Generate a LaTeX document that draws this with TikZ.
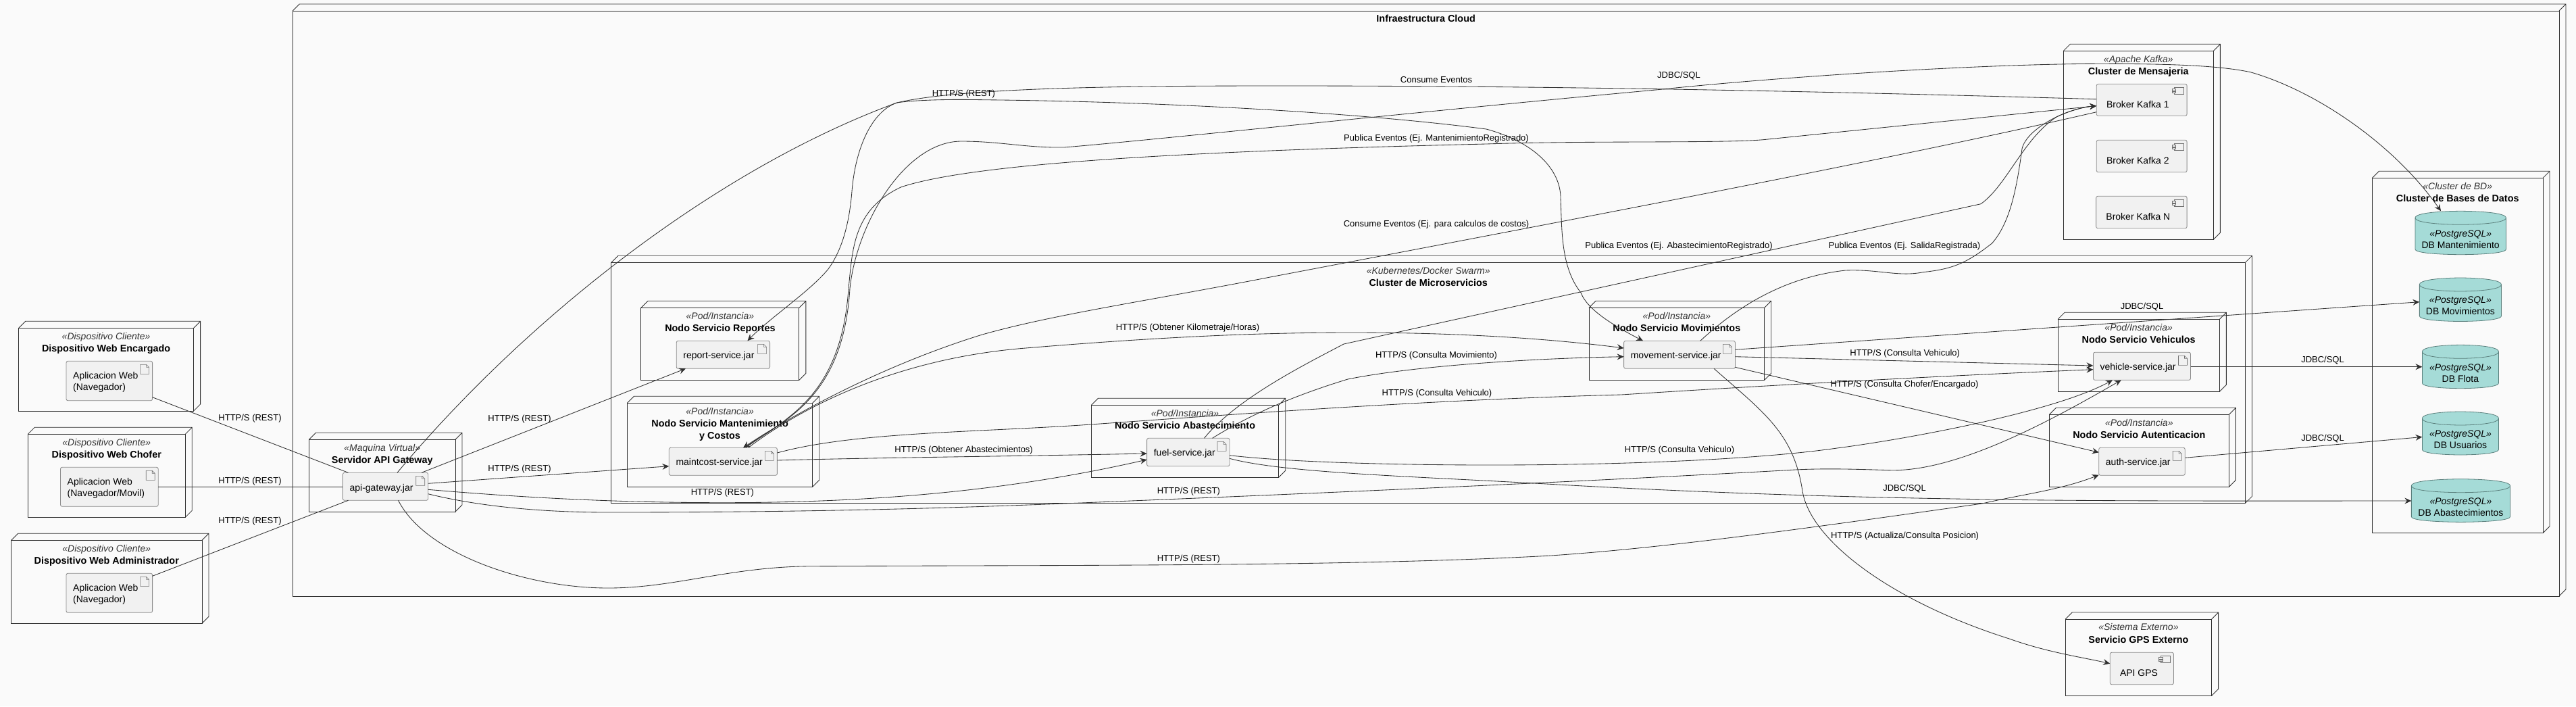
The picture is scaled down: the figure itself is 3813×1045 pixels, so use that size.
\documentclass[tikz,border=0pt]{standalone}
\usepackage{fontspec}
\setmainfont{Liberation Sans}
\usetikzlibrary{arrows.meta}
\definecolor{bgc}{HTML}{FAFAFA}
\definecolor{ln}{HTML}{303030}
\definecolor{artf}{HTML}{F1F1F1}
\definecolor{artl}{HTML}{8C8C8C}
\definecolor{iconl}{HTML}{707070}
\definecolor{dbf}{HTML}{A5DBD7}
\definecolor{dbl}{HTML}{5A7F7C}
\definecolor{ster}{HTML}{333333}
\tikzset{
  frontbox/.style={draw=ln,line width=.85pt,anchor=north west,inner sep=0pt,outer sep=0pt},
  artbox/.style={draw=artl,fill=artf,line width=.85pt,rounded corners=2.5pt,anchor=north west,inner sep=0pt,outer sep=0pt},
  dbbox/.style={anchor=north west,inner sep=0pt,outer sep=0pt},
  icon/.style={draw=iconl,line width=.6pt},
  stereo/.style={font=\fontsize{14}{17}\selectfont\itshape,text=ster,inner sep=0pt,text height=10.5pt,text depth=3pt},
  ttl/.style={font=\fontsize{14.4}{18}\selectfont\bfseries,inner sep=0pt,align=center,anchor=north},
  nodetxt/.style={font=\fontsize{14}{17}\selectfont,inner sep=0pt,align=left,anchor=west},
  dbtxt/.style={font=\fontsize{14}{17}\selectfont,inner sep=0pt,text height=10.5pt,text depth=3pt},
  lab/.style={font=\fontsize{13}{16}\selectfont,inner sep=0pt,text height=10pt,text depth=3pt},
  link/.style={draw=ln,line width=.85pt},
  arrowlink/.style={link,-{Stealth[length=10pt,width=9pt,inset=3.5pt]}},
}
% 3D node frame
\newcommand{\podframe}[5]{%
  \node[frontbox,minimum width=#4pt,minimum height=#5pt] (#1) at (#2,#3) {};
  \draw[ln,line width=.85pt] (#1.north west) -- ([shift={(10,-10)}]#1.north west) -- ([shift={(10,-10)}]#1.north east)
     -- ([shift={(10,-10)}]#1.south east) -- (#1.south east)
     (#1.north east) -- ([shift={(10,-10)}]#1.north east);
}
\newcommand{\pod}[7]{%
  \podframe{#1}{#2}{#3}{#4}{#5}
  \node[stereo] (#1-s) at ([shift={(0,13)}]#1.north) {«#6»};
  \node[ttl] (#1-t) at ([shift={(0,24.5)}]#1.north) {#7};
}
% artifact with document icon: name,x,y,w,h,text,vertical offset of text
\newcommand{\artifact}[7]{%
  \node[artbox,minimum width=#4pt,minimum height=#5pt] (#1) at (#2,#3) {};
  \draw[icon] ([shift={(-18,5)}]#1.north east) -- ([shift={(-9,5)}]#1.north east) -- ([shift={(-5,9)}]#1.north east)
     -- ([shift={(-5,19)}]#1.north east) -- ([shift={(-18,19)}]#1.north east) -- cycle
     ([shift={(-9,5)}]#1.north east) -- ([shift={(-9,9)}]#1.north east) -- ([shift={(-5,9)}]#1.north east);
  \node[nodetxt] (#1-l) at ([shift={(10,#7)}]#1.north west) {#6};
}
% component with plug icon
\newcommand{\component}[6]{%
  \node[artbox,minimum width=#4pt,minimum height=#5pt] (#1) at (#2,#3) {};
  \draw[icon] ([shift={(-19,5)}]#1.north east) rectangle ([shift={(-5,15)}]#1.north east);
  \draw[icon,fill=artf] ([shift={(-22,7)}]#1.north east) rectangle ([shift={(-16.5,9.5)}]#1.north east);
  \draw[icon,fill=artf] ([shift={(-22,10.5)}]#1.north east) rectangle ([shift={(-16.5,13)}]#1.north east);
  \node[nodetxt] (#1-l) at ([shift={(14.6,30)}]#1.north west) {#6};
}
% database cylinder
\newcommand{\database}[6]{%
  \node[dbbox,minimum width=#4pt,minimum height=#5pt] (#1) at (#2,#3) {};
  \draw[draw=dbl,fill=dbf,line width=.8pt] ([shift={(0,10)}]#1.north west) .. controls (#1.north west) and (#1.north) .. (#1.north)
     .. controls (#1.north) and (#1.north east) .. ([shift={(0,10)}]#1.north east)
     -- ([shift={(0,-8)}]#1.south east) .. controls (#1.south east) and (#1.south) .. (#1.south)
     .. controls (#1.south) and (#1.south west) .. ([shift={(0,-8)}]#1.south west) -- cycle;
  \draw[draw=dbl,line width=.8pt] ([shift={(0,10)}]#1.north west) .. controls ([shift={(0,20)}]#1.north west) and ([shift={(0,20)}]#1.north) .. ([shift={(0,20)}]#1.north)
     .. controls ([shift={(0,20)}]#1.north) and ([shift={(0,20)}]#1.north east) .. ([shift={(0,10)}]#1.north east);
  \node[stereo,text=black] (#1-s) at ([shift={(0,34.2)}]#1.north) {«#6»};
}
\newcommand{\dbname}[2]{\node[dbtxt] (#1-n) at ([shift={(0,51)}]#1.north) {#2};}
\begin{document}
\begin{tikzpicture}[x=1pt,y=-1pt]
\useasboundingbox (0,0) rectangle (3813,1045);
\fill[bgc] (0,0) rectangle (3813,1045);

% frames
\podframe{infra}{433.3}{16}{3354.7}{866}
\node[ttl] (infra-t) at ([shift={(0,5.5)}]infra.north) {Infraestructura Cloud};
\pod{kafka}{3054.3}{75.3}{222}{279}{Apache Kafka}{Cluster de Mensajeria}
\pod{dbc}{3511.4}{263.3}{252.6}{525.3}{Cluster de BD}{Cluster de Bases de Datos}
\pod{micro}{904.9}{388.3}{2418.6}{356}{Kubernetes/Docker Swarm}{Cluster de Microservicios}
\pod{enc}{27.6}{485.3}{259}{122.7}{Dispositivo Cliente}{Dispositivo Web Encargado}
\pod{cho}{41.3}{642.3}{233}{123}{Dispositivo Cliente}{Dispositivo Web Chofer}
\pod{adm}{16.6}{799.3}{282.4}{123}{Dispositivo Cliente}{Dispositivo Web Administrador}
\pod{gwn}{457.5}{650.3}{216.5}{106.7}{Maquina Virtual}{Servidor API Gateway}
\pod{rep}{948.9}{455.3}{234}{107}{Pod/Instancia}{Nodo Servicio Reportes}
\pod{mant}{928.5}{596.3}{274.2}{124}{Pod/Instancia}{Nodo Servicio Mantenimiento\\y Costos}
\pod{abast}{1615.4}{599.3}{277.3}{107}{Pod/Instancia}{Nodo Servicio Abastecimiento}
\pod{mov}{2352}{455.3}{259.7}{107}{Pod/Instancia}{Nodo Servicio Movimientos}
\pod{veh}{3046}{472.3}{239.3}{107}{Pod/Instancia}{Nodo Servicio Vehiculos}
\pod{aut}{3033.3}{613.3}{266}{107}{Pod/Instancia}{Nodo Servicio Autenticacion}
\pod{gps}{3057.2}{916}{216.4}{113.3}{Sistema Externo}{Servicio GPS Externo}

% artifacts
\artifact{aenc}{98}{534.3}{127.6}{58.4}{Aplicacion Web\\(Navegador)}{31.2}
\artifact{acho}{89.5}{691.3}{144.7}{58}{Aplicacion Web\\(Navegador/Movil)}{31.2}
\artifact{aadm}{98}{848.3}{127.6}{58}{Aplicacion Web\\(Navegador)}{31.2}
\artifact{gw}{507.4}{699.3}{126.3}{41}{api-gateway.jar}{23.4}
\artifact{arep}{1001.2}{504.3}{138.4}{41}{report-service.jar}{23}
\artifact{amant}{990.3}{662.3}{160.1}{41}{maintcost-service.jar}{23}
\artifact{afuel}{1697.6}{648.3}{122.4}{41.4}{fuel-service.jar}{23}
\artifact{amov}{2403.6}{504.3}{164.8}{41}{movement-service.jar}{23}
\artifact{aveh}{3098.4}{521.3}{144.1}{41}{vehicle-service.jar}{23}
\artifact{aaut}{3106.7}{662.3}{127.5}{41}{auth-service.jar}{23}

% components
\component{b1}{3103.2}{124.3}{133.9}{47}{Broker Kafka 1}
\component{b2}{3103.2}{207.3}{133.9}{47.4}{Broker Kafka 2}
\component{bn}{3102.6}{290.3}{134.5}{47.4}{Broker Kafka N}
\component{api}{3123.2}{965.3}{94.2}{47.4}{API GPS}

% databases
\database{dman}{3574.9}{312.3}{134.5}{64.4}{PostgreSQL}\dbname{dman}{DB Mantenimiento}
\database{dmov}{3581.3}{411}{121.1}{64.5}{PostgreSQL}\dbname{dmov}{DB Movimientos}
\database{dflo}{3585.4}{510.3}{113}{64.4}{PostgreSQL}\dbname{dflo}{DB Flota}
\database{dusr}{3585.4}{609}{113}{64}{PostgreSQL}\dbname{dusr}{DB Usuarios}
\database{dabs}{3569.3}{708.7}{146.2}{63.7}{PostgreSQL}\dbname{dabs}{DB Abastecimientos}

% clients to gateway
\draw[link] ([shift={(127.6,53.4)}]aenc.north west) -- ([shift={(8.1,0)}]gw.north west);
\draw[link] ([shift={(144.7,29)}]acho.north west) -- ([shift={(0,21)}]gw.north west);
\draw[link] ([shift={(127.6,4)}]aadm.north west) -- ([shift={(8.1,41)}]gw.north west);

% gateway to services
\draw[arrowlink] ([shift={(116.6,0)}]gw.north west) -- ([shift={(13.8,41)}]arep.north west);
\draw[arrowlink] ([shift={(126.3,16)}]gw.north west) -- ([shift={(0,27.4)}]amant.north west);
\draw[arrowlink] ([shift={(126.3,25)}]gw.north west) .. controls (760,735) and (900,743.7) .. (1070,743.7)
   .. controls (1300,743.7) and (1500,725) .. ([shift={(0,31.7)}]afuel.north west);
\draw[arrowlink] ([shift={(126.3,31.4)}]gw.north west) .. controls (720,752) and (820,758) .. (900,758)
   .. controls (1200,758) and (1400,752) .. (1600,744)
   .. controls (1950,730) and (2350,712) .. (2640,696)
   .. controls (2700,692) and (2750,694.5) .. (2800,695.7)
   .. controls (2900,697) and (3040,620) .. ([shift={(41.4,41)}]aveh.north west);
\draw[arrowlink] ([shift={(82.1,41)}]gw.north west) .. controls (630,820) and (780,870) .. (900,870)
   .. controls (1000,870) and (1080,838) .. (1204,837.7)
   .. controls (1600,836) and (2000,838) .. (2291,822.3)
   .. controls (2480,810) and (2720,775) .. (2934,745)
   .. controls (2990,732) and (3050,725) .. ([shift={(0,40.4)}]aaut.north west);
\draw[arrowlink] ([shift={(80.6,0)}]gw.north west) .. controls (780,470) and (1060,250) .. (1327.5,152)
   .. controls (1360,147) and (1420,147) .. (1455,147.7)
   .. controls (1700,150) and (2000,165) .. (2200,191)
   .. controls (2270,210) and (2310,250) .. (2310,293)
   .. controls (2312,340) and (2310,395) .. (2340,433)
   .. controls (2350,460) and (2395,485) .. ([shift={(28.4,0)}]amov.north west);

% kafka to services
\draw[arrowlink] ([shift={(0,22.4)}]b1.north west) .. controls (2700,135) and (2300,127) .. (1900,127)
   .. controls (1700,127) and (1430,128) .. (1327.5,152)
   .. controls (1290,165) and (1266,220) .. (1261,283)
   .. controls (1258,320) and (1250,365) .. (1226,398)
   .. controls (1200,430) and (1140,470) .. ([shift={(105.2,0)}]arep.north west);
\draw[arrowlink] ([shift={(0,41.4)}]b1.north west) .. controls (2800,236) and (2300,330) .. (1880,410)
   .. controls (1700,445) and (1560,465) .. (1454,495)
   .. controls (1340,530) and (1210,590) .. ([shift={(109.7,0)}]amant.north west);

% maintcost
\draw[arrowlink] ([shift={(113.7,0)}]amant.north west) .. controls (1160,620) and (1245,590) .. (1256,426.7)
   .. controls (1262,370) and (1262,310) .. (1334,276.7)
   .. controls (1430,245) and (1700,225) .. (2200,213)
   .. controls (2350,208) and (2550,212) .. (2610,206.7)
   -- ([shift={(0,32.4)}]b1.north west);
\draw[arrowlink] ([shift={(111.7,0)}]amant.north west) .. controls (1160,622) and (1248,590) .. (1258,426.7)
   .. controls (1268,330) and (1340,209) .. (1423,209)
   .. controls (1480,209) and (1520,219) .. (1575,218)
   .. controls (1700,208) and (2100,165) .. (2451,133)
   .. controls (2650,112) and (2950,94) .. (3115,94.3)
   .. controls (3200,94.5) and (3280,96) .. (3331,106.7)
   .. controls (3430,135) and (3545,215) .. ([shift={(38.1,0)}]dman.north west);
\draw[arrowlink] ([shift={(117.4,0)}]amant.north west) .. controls (1190,600) and (1330,530) .. (1518,515)
   .. controls (1700,500) and (1850,492) .. (2000,492)
   .. controls (2130,492) and (2270,498) .. ([shift={(0,10.7)}]amov.north west);
\draw[arrowlink] ([shift={(160.1,7.7)}]amant.north west) .. controls (1260,640) and (1430,640) .. (1600,629)
   .. controls (1800,615) and (2100,592) .. (2400,584)
   .. controls (2650,568) and (2900,555) .. ([shift={(0,25.4)}]aveh.north west);
\draw[arrowlink] ([shift={(160.1,18.7)}]amant.north west) .. controls (1300,677) and (1500,675) .. ([shift={(0,22.7)}]afuel.north west);

% fuel
\draw[arrowlink] ([shift={(84.8,0)}]afuel.north west) .. controls (1830,590) and (1930,540) .. (1989,509)
   -- (2932,301.7)
   .. controls (2970,275) and (2995,205) .. (3044,173)
   .. controls (3060,165) and (3085,158) .. ([shift={(0,32.4)}]b1.north west);
\draw[arrowlink] ([shift={(96.9,0)}]afuel.north west) .. controls (1840,620) and (1900,590) .. (1995,561)
   .. controls (2100,540) and (2280,530) .. ([shift={(0,23.4)}]amov.north west);
\draw[arrowlink] ([shift={(122.4,25.4)}]afuel.north west) .. controls (1900,683) and (2050,688) .. (2206,688)
   .. controls (2400,688) and (2600,680) .. (2719,663)
   .. controls (2820,650) and (3040,610) .. ([shift={(28.6,41)}]aveh.north west);
\draw[arrowlink] ([shift={(122.4,30)}]afuel.north west) .. controls (1900,700) and (2100,705) .. (2289,716)
   .. controls (2500,728) and (2700,735) .. (2910,738.3)
   .. controls (3100,742) and (3400,741) .. ([shift={(0,32.3)}]dabs.north west);

% movement
\draw[arrowlink] ([shift={(113.1,0)}]amov.north west) .. controls (2570,455) and (2640,410) .. (2731.6,400)
   .. controls (2780,398) and (2810,410) .. (2846.5,402.7)
   .. controls (2890,398) and (2910,390) .. (2948.5,360)
   .. controls (2975,330) and (2985,280) .. (2993,220)
   .. controls (3000,190) and (3060,160) .. ([shift={(0,32.4)}]b1.north west);
\draw[arrowlink] ([shift={(164.8,13)}]amov.north west) -- ([shift={(0,35.7)}]dmov.north west);
\draw[arrowlink] ([shift={(164.8,23.4)}]amov.north west) -- ([shift={(0,19.7)}]aveh.north west);
\draw[arrowlink] ([shift={(164.8,39)}]amov.north west) -- ([shift={(0,7)}]aaut.north west);
\draw[arrowlink] ([shift={(133.4,41)}]amov.north west) .. controls (2610,610) and (2655,640) .. (2668,726.7)
   .. controls (2680,800) and (2800,890) .. (2974,945)
   .. controls (3030,965) and (3080,972) .. ([shift={(0,16.4)}]api.north west);

% JDBC from vehicle, auth
\draw[arrowlink] ([shift={(144.1,21.4)}]aveh.north west) -- ([shift={(0,32.4)}]dflo.north west);
\draw[arrowlink] ([shift={(127.5,15)}]aaut.north west) -- ([shift={(0,37.5)}]dusr.north west);

% labels
\node[lab] (l1) at (370,619.3) {HTTP/S (REST)};
\node[lab] (l2) at (370,711.7) {HTTP/S (REST)};
\node[lab] (l3) at (370,771.3) {HTTP/S (REST)};
\node[lab] (l4) at (769,620.3) {HTTP/S (REST)};
\node[lab] (l5) at (769,694.3) {HTTP/S (REST)};
\node[lab] (l6) at (1069.4,729.3) {HTTP/S (REST)};
\node[lab] (l7) at (1759.4,726.7) {HTTP/S (REST)};
\node[lab] (l8) at (1759.4,826.7) {HTTP/S (REST)};
\node[lab] (l9) at (1426.4,139.3) {HTTP/S (REST)};
\node[lab] (l10) at (2126,118.7) {Consume Eventos};
\node[lab] (l11) at (2485,111.7) {JDBC/SQL};
\node[lab] (l12) at (2126,204.7) {Publica Eventos (Ej. MantenimientoRegistrado)};
\node[lab] (l13) at (2126,331.7) {Consume Eventos (Ej. para calculos de costos)};
\node[lab] (l14) at (2485,363.7) {Publica Eventos (Ej. AbastecimientoRegistrado)};
\node[lab] (l15) at (2819,364.3) {Publica Eventos (Ej. SalidaRegistrada)};
\node[lab] (l16) at (1758,484.7) {HTTP/S (Obtener Kilometraje/Horas)};
\node[lab] (l17) at (2126,526.3) {HTTP/S (Consulta Movimiento)};
\node[lab] (l18) at (2127,582.3) {HTTP/S (Consulta Vehiculo)};
\node[lab] (l19) at (1426.6,665.7) {HTTP/S (Obtener Abastecimientos)};
\node[lab] (l20) at (2486,665.7) {HTTP/S (Consulta Vehiculo)};
\node[lab] (l21) at (2819.7,522.7) {HTTP/S (Consulta Vehiculo)};
\node[lab] (l22) at (2819,568.7) {HTTP/S (Consulta Chofer/Encargado)};
\node[lab] (l23) at (2819,723.3) {JDBC/SQL};
\node[lab] (l24) at (2819.6,792.7) {HTTP/S (Actualiza/Consulta Posicion)};
\node[lab] (l25) at (3170.5,453.7) {JDBC/SQL};
\node[lab] (l26) at (3438,533) {JDBC/SQL};
\node[lab] (l27) at (3438,649) {JDBC/SQL};
\end{tikzpicture}
\end{document}
